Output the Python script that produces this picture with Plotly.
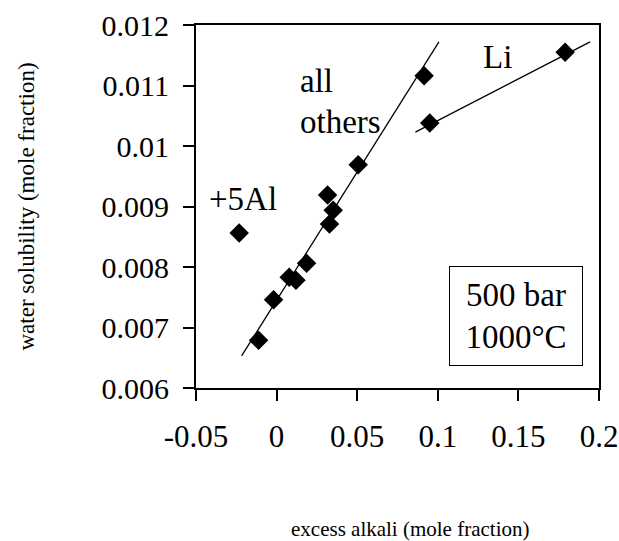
import plotly.graph_objects as go

# Data
others_x = [-0.0112, -0.0019, 0.0078, 0.0120, 0.0186, 0.0316, 0.0351, 0.0328, 0.0506, 0.0915]
others_y = [0.00679, 0.00746, 0.00783, 0.00778, 0.00806, 0.00919, 0.00894, 0.00871, 0.00969, 0.01116]
li_x = [0.095, 0.179]
li_y = [0.01038, 0.01155]
al_x = [-0.0232]
al_y = [0.00856]

others_fit_x = [-0.0217, 0.1007]
others_fit_y = [0.00653, 0.01172]
li_fit_x = [0.0861, 0.1945]
li_fit_y = [0.01023, 0.01172]

x_tickvals = [-0.05, 0, 0.05, 0.1, 0.15, 0.2]
x_ticktext = ["-0.05", "0", "0.05", "0.1", "0.15", "0.2"]
y_tickvals = [0.006, 0.007, 0.008, 0.009, 0.010, 0.011, 0.012]
y_ticktext = ["0.006", "0.007", "0.008", "0.009", "0.01", "0.011", "0.012"]

FONT = "Liberation Serif"

fig = go.Figure()
fig.add_trace(go.Scatter(x=others_fit_x, y=others_fit_y, mode="lines",
                         line=dict(color="black", width=1.3), showlegend=False, hoverinfo="skip"))
fig.add_trace(go.Scatter(x=li_fit_x, y=li_fit_y, mode="lines",
                         line=dict(color="black", width=1.3), showlegend=False, hoverinfo="skip"))
for xs, ys in [(others_x, others_y), (li_x, li_y), (al_x, al_y)]:
    fig.add_trace(go.Scatter(x=xs, y=ys, mode="markers",
                             marker=dict(symbol="diamond", size=15, color="black"),
                             showlegend=False))

axis_common = dict(showgrid=False, zeroline=False, showline=True, linecolor="black",
                   linewidth=2, mirror=True, ticks="outside", ticklen=11, tickwidth=2,
                   tickcolor="black", automargin=False, ticklabeloverflow="allow")

fig.update_xaxes(range=[-0.05, 0.2], tickmode="array", tickvals=x_tickvals, ticktext=x_ticktext,
                 tickfont=dict(family=FONT, size=31, color="black"), ticklabelstandoff=9,
                 **axis_common)
fig.update_yaxes(range=[0.006, 0.012], tickmode="array", tickvals=y_tickvals, ticktext=y_ticktext,
                 tickfont=dict(family=FONT, size=30, color="black"), ticklabelstandoff=8,
                 **axis_common)

annots = [
    dict(x=0.0134, y=0.011074, text="all", xanchor="left", yanchor="middle",
         xref="x", yref="y", font=dict(size=33)),
    dict(x=0.0134, y=0.0104, text="others", xanchor="left", yanchor="middle",
         xref="x", yref="y", font=dict(size=33)),
    dict(x=-0.0432, y=0.009124, text="+5Al", xanchor="left", yanchor="middle",
         xref="x", yref="y", font=dict(size=33)),
    dict(x=0.127, y=0.01147, text="Li", xanchor="left", yanchor="middle",
         xref="x", yref="y", font=dict(size=33)),
    dict(x=0.794, y=0.198, text="500 bar<br>1000°C", xanchor="center", yanchor="middle",
         xref="paper", yref="paper", font=dict(size=33), bordercolor="black",
         borderwidth=1, borderpad=0, width=132, height=98, bgcolor="white"),
    dict(x=-0.4218, y=0.5, text="water solubility (mole fraction)", textangle=-90,
         xanchor="center", yanchor="middle", xref="paper", yref="paper", font=dict(size=23)),
    dict(x=0.531, y=-0.3884, text="excess alkali (mole fraction)",
         xanchor="center", yanchor="middle", xref="paper", yref="paper", font=dict(size=21)),
]
for a in annots:
    a["showarrow"] = False
    a["font"]["family"] = FONT
    a["font"]["color"] = "black"
    fig.add_annotation(**a)

fig.update_layout(template="none", width=619, height=541,
                  margin=dict(l=196, r=20, t=25, b=153),
                  paper_bgcolor="white", plot_bgcolor="white",
                  font=dict(family=FONT, color="black"))

fig.write_html("out.html", config={"displayModeBar": False},
               post_script="document.body.style.margin='0';document.body.style.overflow='hidden';")
